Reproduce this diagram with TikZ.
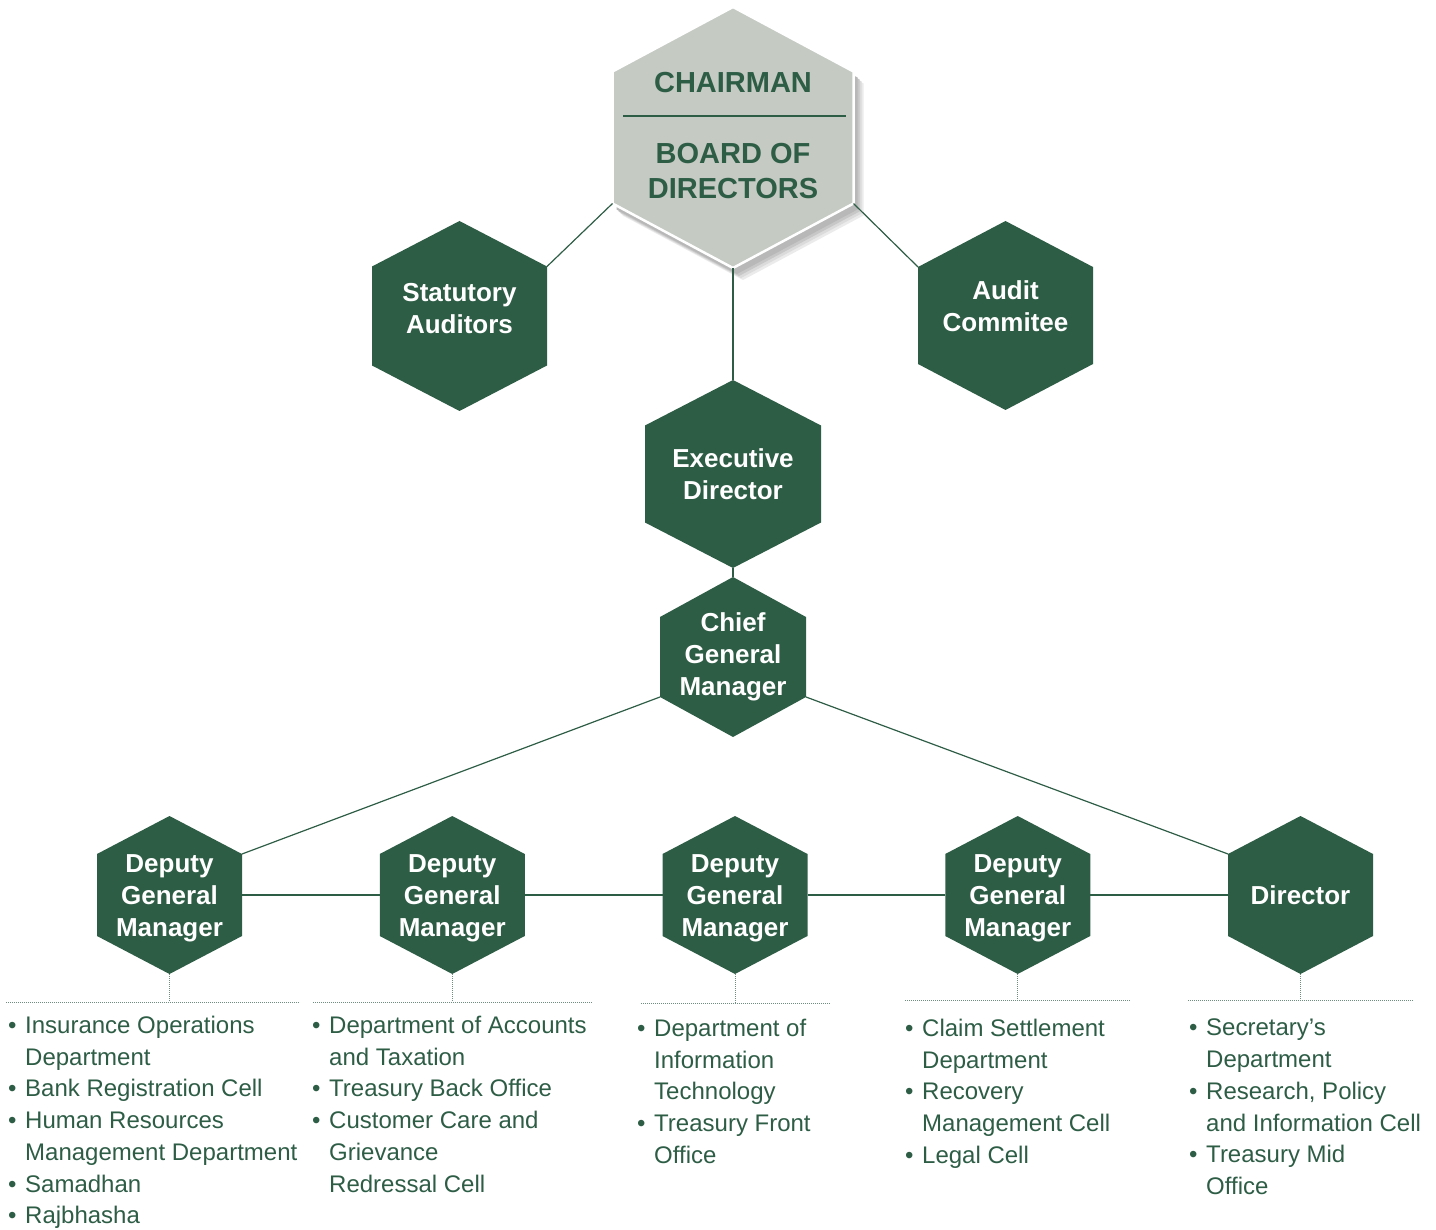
\documentclass[tikz,border=0pt]{standalone}
\usepackage{fontspec}
\setmainfont{Liberation Sans}

\definecolor{orggreen}{RGB}{46,93,70}
\definecolor{boardgrey}{RGB}{197,202,195}

% pointy-topped hexagon: name, centre, half width, half height, half side, path style
\newcommand{\hexagon}[6]{%
	\begin{scope}[shift={#2}]
		\path[#6] (0,-#4) -- (#3,-#5) -- (#3,#5) -- (0,#4) -- (-#3,#5) -- (-#3,-#5) -- cycle;
		\coordinate (#1-n) at (0,-#4);
		\coordinate (#1-ne) at (#3,-#5);
		\coordinate (#1-e) at (#3,0);
		\coordinate (#1-se) at (#3,#5);
		\coordinate (#1-s) at (0,#4);
		\coordinate (#1-sw) at (-#3,#5);
		\coordinate (#1-w) at (-#3,0);
		\coordinate (#1-nw) at (-#3,-#5);
	\end{scope}
}
\newcommand{\bul}{\makebox[17pt][l]{\textbullet}}
\newcommand{\cont}{\makebox[17pt]{}}

\begin{document}
\begin{tikzpicture}[x=1pt,y=-1pt]
	\tikzset{
		hexfill/.style={fill=orggreen},
		boardfill/.style={fill=boardgrey,draw=white,line width=2.5pt,
			preaction={fill=black!8,transform canvas={xshift=10pt,yshift=-12pt}},
			preaction={fill=black!14,transform canvas={xshift=8pt,yshift=-10pt}},
			preaction={fill=black!22,transform canvas={xshift=6pt,yshift=-8pt}},
			preaction={fill=black!28,transform canvas={xshift=4pt,yshift=-6pt}}},
		hextext/.style={text=white,align=center,inner sep=0pt,
			font=\bfseries\fontsize{26}{32}\selectfont},
		boardtext/.style={text=orggreen,align=center,inner sep=0pt,
			font=\bfseries\fontsize{29}{35}\selectfont},
		listtext/.style={text=orggreen,align=left,anchor=north west,inner sep=0pt,
			font=\fontsize{24}{31.7}\selectfont},
	}
	\tikzset{
		edge/.style={draw=orggreen,line width=1.2pt},
		thickedge/.style={draw=orggreen,line width=2pt},
		rule/.style={draw=orggreen!70,line width=0.9pt,dash pattern=on 1pt off 1pt},
	}
	\useasboundingbox (0,0) rectangle (1436,1230);

	% board at the top
	\hexagon{board}{(733,137.5)}{120.5}{130.5}{66}{boardfill}
	\node[boardtext] (chair) at (733,82.7) {CHAIRMAN};
	\draw[orggreen,line width=2.5pt] (623,116) -- (846,116);
	\node[boardtext] (bod) at (733,170.7) {BOARD OF\\DIRECTORS};

	\hexagon{sa}{(459.5,316)}{87.5}{95}{49.5}{hexfill}
	\node[hextext] (statutory) at (459.5,308.5) {Statutory\\Auditors};
	\hexagon{ac}{(1005.5,315.5)}{87.5}{94.5}{48.5}{hexfill}
	\node[hextext] (audit) at (1005.5,305.8) {Audit\\Commitee};

	\hexagon{ed}{(733,474)}{88}{94}{48.5}{hexfill}
	\node[hextext] (exec) at (733,474.7) {Executive\\Director};
	\hexagon{cgm}{(733,657)}{73}{80}{40}{hexfill}
	\node[hextext] (chief) at (733,656.5) {Chief\\General\\Manager};

	% deputies and director
	\foreach \i/\x in {1/169.5,2/452.25,3/735,4/1017.75} {
		\hexagon{dgm\i}{(\x,895)}{72.5}{79}{41}{hexfill}
		\node[hextext] (deputy\i) at (\x,898.5) {Deputy\\General\\Manager};
	}
	\hexagon{dir}{(1300.5,895)}{72.5}{79}{41}{hexfill}
	\node[hextext] (director) at (1300.5,895) {Director};

	\draw[edge] (board-sw) to (sa-ne);
	\draw[edge] (board-se) to (ac-nw);
	\draw[thickedge] (board-s) to (ed-n);
	\draw[thickedge] (ed-s) to (cgm-n);
	\draw[edge] (cgm-sw) to (dgm1-ne);
	\draw[edge] (cgm-se) to (dir-nw);
	\draw[thickedge] (dgm1-e) to (dgm2-w);
	\draw[thickedge] (dgm2-e) to (dgm3-w);
	\draw[thickedge] (dgm3-e) to (dgm4-w);
	\draw[thickedge] (dgm4-e) to (dir-w);

	% dotted rules above the lists
	\foreach \n/\x/\a/\b/\y in {dgm1/169.5/6/300/1002,dgm2/452.25/313/592/1002,
		dgm3/735/641/831/1003,dgm4/1017.75/905/1130/1000,dir/1300.5/1188/1414/1000} {
		\coordinate (\n-foot) at (\x,\y);
		\draw[rule] (\n-s) to (\n-foot);
		\draw[rule] (\a,\y) -- (\b,\y);
	}

	\node[listtext] (list1) at (8,1016) {\bul Insurance Operations\\\cont Department\\
		\bul Bank Registration Cell\\\bul Human Resources\\\cont Management Department\\
		\bul Samadhan\\\bul Rajbhasha};
	\node[listtext] (list2) at (312,1016) {\bul Department of Accounts\\\cont and Taxation\\
		\bul Treasury Back Office\\\bul Customer Care and\\\cont Grievance\\\cont Redressal Cell};
	\node[listtext] (list3) at (637,1019) {\bul Department of\\\cont Information\\
		\cont Technology\\\bul Treasury Front\\\cont Office};
	\node[listtext] (list4) at (905,1019) {\bul Claim Settlement\\\cont Department\\
		\bul Recovery\\\cont Management Cell\\\bul Legal Cell};
	\node[listtext] (list5) at (1189,1019) {\bul Secretary’s\\\cont Department\\
		\bul Research, Policy\\\cont and Information Cell\\\bul Treasury Mid\\\cont Office};
\end{tikzpicture}
\end{document}
